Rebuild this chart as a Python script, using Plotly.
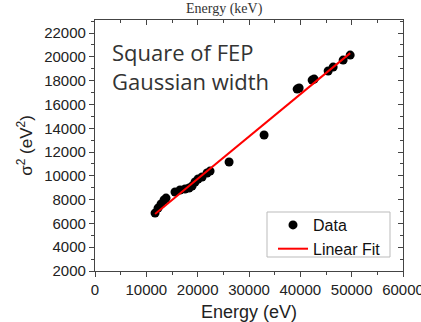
import plotly.graph_objects as go

energy_ev = [11700, 12280, 12870, 13450, 13840, 15590, 16570, 17540, 18320, 18910,
             19490, 20080, 20860, 21830, 22420, 26120, 32940, 39380, 39770, 42300,
             42690, 45420, 46390, 48340, 49710]
sigma_sq = [6870, 7290, 7630, 7970, 8130, 8640, 8810, 8890, 8980, 9140,
            9480, 9730, 9900, 10240, 10400, 11160, 13430, 17290, 17380, 18050,
            18130, 18810, 19140, 19730, 20150]
fit_slope = 0.356
fit_intercept = 2620
fit_x = [min(energy_ev), max(energy_ev)]
fit_y = [fit_intercept + fit_slope * x for x in fit_x]

x_ticks = [0, 10000, 20000, 30000, 40000, 50000, 60000]
y_ticks = [2000, 4000, 6000, 8000, 10000, 12000, 14000, 16000, 18000, 20000, 22000]

XR = [0, 60000]
YR = [2000, 23100]

L, R, T, B = 95, 18, 20, 51
W, H = 421, 322
PW, PH = W - L - R, H - T - B


def px_x(p):
    return (p - L) / PW


def px_y(p):
    return (H - B - p) / PH


fig = go.Figure()
fig.add_trace(go.Scatter(x=energy_ev, y=sigma_sq, mode="markers", name="Data",
                         marker=dict(color="black", size=9)))
fig.add_trace(go.Scatter(x=fit_x, y=fit_y, mode="lines", name="Linear Fit",
                         line=dict(color="#ff0000", width=2)))
fig.add_trace(go.Scatter(x=[None], y=[None], xaxis="x2", yaxis="y2",
                         showlegend=False, hoverinfo="skip"))

axfont = dict(family="Liberation Sans, Arial", size=15, color="#222")
common = dict(showgrid=False, zeroline=False, showline=True, linecolor="#444",
              linewidth=1.2, ticklen=5, tickcolor="#444", tickwidth=1, automargin=False)

fig.update_layout(
    width=W, height=H,
    margin=dict(l=L, r=R, t=T, b=B, autoexpand=False),
    plot_bgcolor="white", paper_bgcolor="white",
    showlegend=True,
    legend=dict(x=px_x(273), y=px_y(208), xanchor="left", yanchor="top",
                bgcolor="rgba(0,0,0,0)", borderwidth=0,
                font=dict(family="Liberation Sans, Arial", size=16, color="#111"),
                tracegroupgap=0, itemwidth=30),
    shapes=[dict(type="rect", xref="paper", yref="paper",
                 x0=px_x(267), x1=px_x(390), y0=px_y(257), y1=px_y(212),
                 line=dict(color="#bbb", width=1), fillcolor="white", layer="below")],
    xaxis=dict(range=XR, tickvals=x_ticks, ticktext=[str(v) for v in x_ticks],
               ticks="outside", tickfont=axfont, ticklabeloverflow="allow",
               minor=dict(ticks="outside", dtick=5000, ticklen=3, tickcolor="#444"),
               title=dict(text="Energy (eV)", font=dict(family="Liberation Sans, Arial", size=18, color="#222"),
                          standoff=8),
               **common),
    yaxis=dict(range=YR, tickvals=y_ticks, ticktext=[str(v) for v in y_ticks],
               ticks="outside", tickfont=axfont, ticklabeloverflow="allow",
               minor=dict(ticks="outside", dtick=1000, ticklen=3, tickcolor="#444"),
               title=dict(text="σ<sup>2</sup> (eV<sup>2</sup>)", font=dict(family="Liberation Sans, Arial", size=17, color="#222"),
                          standoff=7),
               **common),
    xaxis2=dict(range=XR, overlaying="x", side="top", tickvals=x_ticks,
                showticklabels=False, ticks="inside",
                minor=dict(ticks="inside", dtick=5000, ticklen=3, tickcolor="#444"),
                **common),
    yaxis2=dict(range=YR, overlaying="y", side="right", tickvals=y_ticks,
                showticklabels=False, ticks="inside",
                minor=dict(ticks="inside", dtick=1000, ticklen=3, tickcolor="#444"),
                **common),
    annotations=[
        dict(text="Square of FEP<br>Gaussian width", x=px_x(110), y=px_y(35),
             xref="paper", yref="paper",
             xanchor="left", yanchor="top", showarrow=False, align="left",
             font=dict(family="Open Sans, Lato", size=22, color="#333")),
        dict(text="Energy (keV)", x=px_x(224), y=px_y(19), xref="paper", yref="paper",
             xanchor="center", yanchor="bottom", showarrow=False,
             font=dict(family="Liberation Serif, Times New Roman", size=14, color="#333")),
    ],
)

fig.write_html("out.html", config={"displayModeBar": False},
               post_script="document.body.style.margin='0';document.body.style.overflow='hidden';")
